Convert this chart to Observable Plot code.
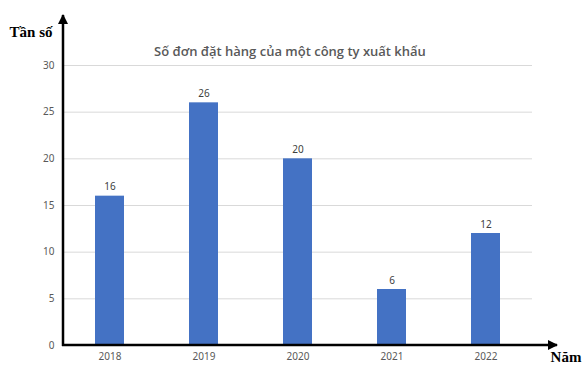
<!DOCTYPE html>
<html>
<head>
<meta charset="utf-8">
<script src="https://cdn.jsdelivr.net/npm/d3@7"></script>
<script src="https://cdn.jsdelivr.net/npm/@observablehq/plot@0.6"></script>
<style>
  body { margin: 0; background: #fff; }
  #chart svg { display: block; }
</style>
</head>
<body>
<div id="chart"></div>
<script>
const years = ["2018", "2019", "2020", "2021", "2022"];
const counts = [16, 26, 20, 6, 12];
const yTicks = [0, 5, 10, 15, 20, 25, 30];
const title = "Số đơn đặt hàng của một công ty xuất khẩu";
const yLabel = "Tần số";
const xLabel = "Năm";

const data = years.map((y, i) => ({year: y, count: counts[i]}));

const chart = Plot.plot({
  width: 587,
  height: 375,
  marginLeft: 63,
  marginRight: 55,
  marginTop: 65,
  marginBottom: 30,
  style: {fontFamily: "'Noto Sans', sans-serif", fontSize: "10px", color: "#595959", background: "#fff"},
  x: {domain: years, paddingInner: 0.69, paddingOuter: 0.33, label: null, tickSize: 0, tickPadding: 7},
  y: {domain: [0, 30], ticks: yTicks, label: null, tickSize: 0, tickPadding: 9},
  marks: [
    Plot.ruleY(yTicks.filter(d => d > 0), {stroke: "#d9d9d9", strokeWidth: 1}),
    Plot.barY(data, {x: "year", y: "count", fill: "#4472C4"}),
    Plot.text(data, {x: "year", y: "count", text: d => String(d.count), dy: -9, fill: "#404040", fontSize: 10}),
    Plot.text([title], {frameAnchor: "top", dy: -19, dx: -8, fontSize: 13, fontWeight: 600, fill: "#595959", fontFamily: "'Open Sans', sans-serif"})
  ]
});

document.getElementById("chart").appendChild(chart);

// Axis arrows (decorations) positioned from the chart's scales
const svg = d3.select(chart);
const ys = chart.scale("y");
const y0 = ys.apply(0);
const axisX = 63;
const defs = svg.append("defs");
defs.append("marker")
  .attr("id", "arrowhead")
  .attr("viewBox", "0 0 10 10")
  .attr("refX", 9).attr("refY", 5)
  .attr("markerWidth", 4).attr("markerHeight", 4)
  .attr("orient", "auto")
  .append("path").attr("d", "M0,0 L10,5 L0,10 z").attr("fill", "#000");

svg.append("line")
  .attr("x1", axisX).attr("y1", y0 + 1)
  .attr("x2", axisX).attr("y2", 15)
  .attr("stroke", "#000").attr("stroke-width", 2.5)
  .attr("marker-end", "url(#arrowhead)");
svg.append("line")
  .attr("x1", axisX - 1).attr("y1", y0)
  .attr("x2", 557).attr("y2", y0)
  .attr("stroke", "#000").attr("stroke-width", 2.5)
  .attr("marker-end", "url(#arrowhead)");

svg.append("text")
  .attr("x", 31).attr("y", 37)
  .attr("text-anchor", "middle")
  .attr("font-family", "'Liberation Serif', 'Times New Roman', serif")
  .attr("font-weight", "bold").attr("font-size", 15).attr("fill", "#000")
  .text(yLabel);
svg.append("text")
  .attr("x", 566).attr("y", 362)
  .attr("text-anchor", "middle")
  .attr("font-family", "'Liberation Serif', 'Times New Roman', serif")
  .attr("font-weight", "bold").attr("font-size", 15).attr("fill", "#000")
  .text(xLabel);
</script>
</body>
</html>
